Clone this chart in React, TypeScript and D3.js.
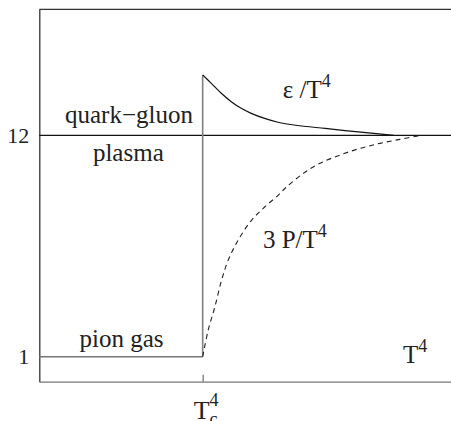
import React, { useEffect, useRef } from 'react'
import { select, scaleLinear, line, curveCatmullRom, axisLeft, axisBottom } from 'd3'

// T^4 axis in units of Tc^4, y axis in units of the pion gas value
const epsX = [1, 1.053, 1.114, 1.175, 1.236, 1.297, 1.379, 1.461, 1.57, 1.75, 2.0, 2.17]
const epsY = [15.0, 14.58, 14.09, 13.67, 13.34, 13.09, 12.84, 12.65, 12.5, 12.34, 12.13, 12.0]

const presX = [1, 1.034, 1.075, 1.116, 1.157, 1.218, 1.3, 1.381, 1.463, 1.514, 1.616, 1.718, 1.84, 1.963, 2.085, 2.207, 2.32]
const presY = [1, 2.33, 3.49, 4.81, 5.81, 6.8, 7.79, 8.45, 9.03, 9.44, 10.11, 10.61, 11.02, 11.35, 11.6, 11.8, 11.97]

const pionX = [0, 1]
const pionY = [1, 1]

const yTicks = [1, 12]
const xTicks = [1]
const highLimit = 12

function App() {
  const ref = useRef<SVGSVGElement>(null)

  useEffect(() => {
    const width = 451, height = 421
    const margin = { top: 9.3, right: 0, bottom: 39.3, left: 39.3 }

    const svg = select(ref.current)
    svg.selectAll('*').remove()

    const x = scaleLinear().domain([0, 2.52]).range([margin.left, width - margin.right])
    const y = scaleLinear().domain([-0.24, 18.26]).range([height - margin.bottom, margin.top])

    // top frame line
    svg.append('line')
      .attr('x1', x(0)).attr('x2', x(2.52))
      .attr('y1', y(18.26)).attr('y2', y(18.26))
      .attr('stroke', '#333').attr('stroke-width', 1.2)

    // left axis
    const gy = svg.append('g')
      .attr('transform', `translate(${x(0)},0)`)
      .call(axisLeft(y).tickValues(yTicks).tickSize(0).tickPadding(10).tickFormat(d => String(d)))
    gy.attr('font-family', null).attr('font-size', 22)
    gy.select('.domain').attr('stroke', '#333').attr('stroke-width', 1.3)
    gy.selectAll('text').attr('fill', '#222')

    // bottom axis, tick points inward
    const gx = svg.append('g')
      .attr('transform', `translate(0,${y(-0.24)})`)
      .call(axisBottom(x).tickValues(xTicks).tickSizeInner(-7).tickSizeOuter(0).tickFormat(() => ''))
    gx.select('.domain').attr('stroke', '#777').attr('stroke-width', 1.3)
    gx.selectAll('.tick line').attr('stroke', '#777').attr('stroke-width', 1.3)

    // Tc^4 label
    const tc = svg.append('text')
      .attr('x', x(1) - 9).attr('y', y(-0.24) + 37)
      .attr('font-size', 26).attr('fill', '#222')
    tc.append('tspan').text('T')
    tc.append('tspan').attr('font-size', 18).attr('dy', 6).text('c')
    tc.append('tspan').attr('font-size', 18).attr('dx', -8).attr('dy', -19).text('4')

    // 12 level line
    svg.append('line')
      .attr('x1', x(0)).attr('x2', x(2.52))
      .attr('y1', y(highLimit)).attr('y2', y(highLimit))
      .attr('stroke', '#111').attr('stroke-width', 1.2)

    const mk = (xs: number[], ys: number[]) => xs.map((v, i) => [v, ys[i]] as [number, number])
    const lineGen = line<[number, number]>().x(d => x(d[0])).y(d => y(d[1])).curve(curveCatmullRom.alpha(0.5))

    // pion gas
    svg.append('path')
      .datum(mk(pionX, pionY))
      .attr('fill', 'none').attr('stroke', '#777').attr('stroke-width', 1.6)
      .attr('d', line<[number, number]>().x(d => x(d[0])).y(d => y(d[1])))

    // jump at Tc
    svg.append('line')
      .attr('x1', x(1)).attr('x2', x(1))
      .attr('y1', y(1)).attr('y2', y(epsY[0]))
      .attr('stroke', '#808080').attr('stroke-width', 1.6)

    // energy density
    svg.append('path')
      .datum(mk(epsX, epsY))
      .attr('fill', 'none').attr('stroke', '#111').attr('stroke-width', 1.2)
      .attr('d', lineGen)

    // pressure
    svg.append('path')
      .datum(mk(presX, presY))
      .attr('fill', 'none').attr('stroke', '#222').attr('stroke-width', 1.1)
      .attr('stroke-dasharray', '5,4')
      .attr('d', lineGen)

    const label = (tx: number, ty: number, txt: string, anchor = 'start', sup?: string) => {
      const t = svg.append('text')
        .attr('x', tx).attr('y', ty)
        .attr('text-anchor', anchor)
        .attr('font-size', 25).attr('fill', '#222')
      t.append('tspan').text(txt)
      if (sup) t.append('tspan').attr('font-size', 18).attr('dy', -11).text(sup)
      return t
    }

    label(x(0.549), y(highLimit) - 12, 'quark\u2212gluon', 'middle')
    label(x(0.545), y(highLimit) + 26, 'plasma', 'middle')
    label(x(0.503), y(1) - 10, 'pion gas', 'middle')
    label(x(1.49), y(13.87), '\u03b5 /T', 'start', '4')
    label(x(1.369), y(6.39), '3 P/T', 'start', '4')
    label(x(2.226), y(0.67), 'T', 'start', '4')
  }, [])

  return (
    <svg ref={ref} width={451} height={421}
      style={{ position: 'absolute', left: 0, top: 0, display: 'block', background: '#fff',
        fontFamily: '"Liberation Serif", "Times New Roman", serif' }} />
  )
}

export default App
